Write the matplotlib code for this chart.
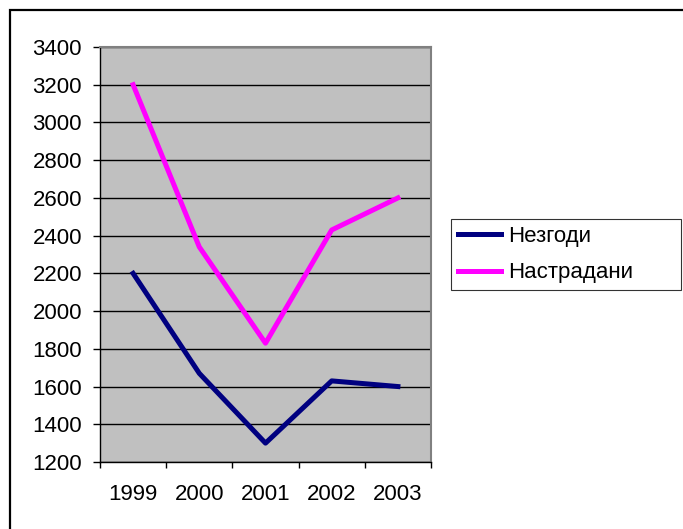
import matplotlib.pyplot as plt
from matplotlib.patches import Rectangle
from matplotlib.ticker import FixedLocator, NullFormatter

plt.rcParams["font.family"] = ["Liberation Sans", "DejaVu Sans"]

years = ["1999", "2000", "2001", "2002", "2003"]
nezgodi = [2200, 1670, 1300, 1630, 1600]
nastradani = [3200, 2340, 1830, 2430, 2600]

FS = 16

fig = plt.figure(figsize=(6.83, 5.29), dpi=100)
ax = fig.add_axes([100 / 683, 1 - 462 / 529, 331 / 683, 415 / 529])

x = list(range(1, len(years) + 1))
ax.plot(x, nezgodi, color="#000080", lw=3.6, label="Незгоди")
ax.plot(x, nastradani, color="#FF00FF", lw=3.6, label="Настрадани")

ax.set_facecolor("#C0C0C0")
ax.set_xlim(0.5, len(years) + 0.5)
ax.set_ylim(1200, 3400)
ax.set_yticks(range(1200, 3401, 200))
ax.yaxis.grid(True, color="black", lw=1)
ax.set_axisbelow(True)

ax.set_xticks(x)
ax.set_xticklabels(years)
ax.xaxis.set_minor_locator(FixedLocator([i + 0.5 for i in range(0, len(years) + 1)]))
ax.xaxis.set_minor_formatter(NullFormatter())
ax.tick_params(axis="x", which="major", length=0, pad=16, labelsize=FS)
ax.tick_params(axis="x", which="minor", length=4.5, width=1, direction="out")
ax.tick_params(axis="y", length=5, width=1, direction="out", pad=8, labelsize=FS)

for side in ("top", "right"):
    ax.spines[side].set_color("#808080")
    ax.spines[side].set_linewidth(1.5)
for side in ("left", "bottom"):
    ax.spines[side].set_color("black")
    ax.spines[side].set_linewidth(1)

leg = fig.legend(
    loc="center",
    bbox_to_anchor=(451 / 683, 1 - 292 / 529, 230 / 683, 75 / 529),
    mode="expand",
    fontsize=FS,
    frameon=True,
    fancybox=False,
    edgecolor="black",
    handlelength=1.95,
    handletextpad=0.3,
    labelspacing=0.7,
    borderpad=0.3,
    borderaxespad=0,
)
leg.get_frame().set_linewidth(0.8)

fig.patches.append(
    Rectangle((9.5 / 683, -0.05), 1.0, 1.05 - 10 / 529, transform=fig.transFigure,
              fill=False, edgecolor="black", lw=1.6)
)

fig.savefig("out.png", dpi=100)
